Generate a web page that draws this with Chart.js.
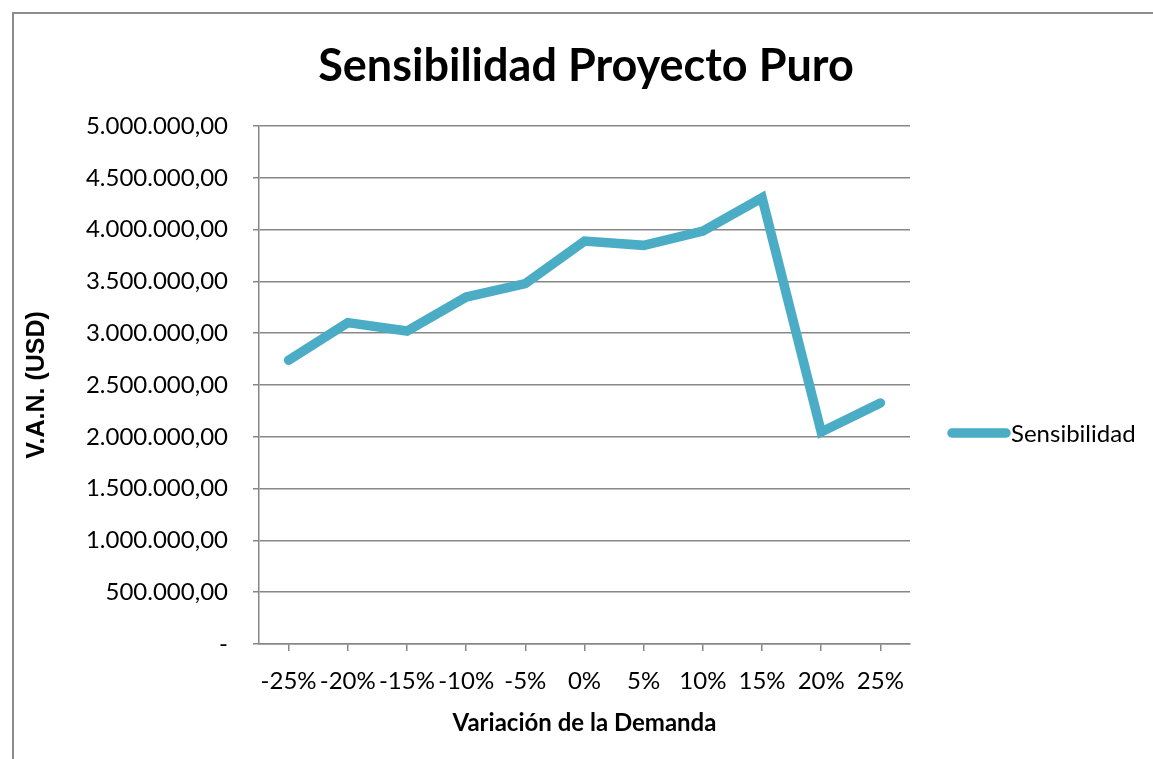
<!DOCTYPE html>
<html>
<head>
<meta charset="utf-8">
<script src="https://cdn.jsdelivr.net/npm/chart.js@4/dist/chart.umd.min.js"></script>
<style>
  html, body { margin: 0; padding: 0; background: #fff; }
  #wrap { width: 1153px; height: 759px; }
</style>
</head>
<body>
<div id="wrap"><canvas id="c" width="1153" height="759"></canvas></div>
<script>
const categories = ['-25%', '-20%', '-15%', '-10%', '-5%', '0%', '5%', '10%', '15%', '20%', '25%'];
const sensibilidad = [2739000, 3102000, 3021000, 3349000, 3478000, 3889000, 3848000, 3986000, 4307000, 2047000, 2327000];
const seriesName = 'Sensibilidad';
const chartTitle = 'Sensibilidad Proyecto Puro';
const xTitle = 'Variación de la Demanda';
const yTitle = 'V.A.N. (USD)';

const lineColor = '#4BACC6';
const gridColor = '#878787';
const bodyFont = 'Lato, "Open Sans", sans-serif';

function fmt(v) {
  if (v === 0) return '-';
  const s = Math.round(v).toString().replace(/\B(?=(\d{3})+(?!\d))/g, '.');
  return s + ',00';
}

const framePlugin = {
  id: 'frame',
  beforeDraw(chart) {
    const ctx = chart.ctx;
    ctx.save();
    ctx.fillStyle = '#fff';
    ctx.fillRect(0, 0, chart.width, chart.height);
    ctx.strokeStyle = '#8c8c8c';
    ctx.lineWidth = 2;
    ctx.beginPath();
    ctx.moveTo(13, chart.height + 5);
    ctx.lineTo(13, 13);
    ctx.lineTo(chart.width + 5, 13);
    ctx.stroke();
    ctx.restore();
  }
};

const titlePlugin = {
  id: 'customTitle',
  afterDraw(chart) {
    const ctx = chart.ctx;
    ctx.save();
    ctx.fillStyle = '#000';
    ctx.font = 'bold 45px ' + bodyFont;
    ctx.textAlign = 'center';
    ctx.textBaseline = 'middle';
    ctx.fillText(chartTitle, 586, 66);
    ctx.restore();
  }
};

const legendPlugin = {
  id: 'customLegend',
  afterDraw(chart) {
    const ctx = chart.ctx;
    const ds = chart.data.datasets[0];
    const y = 433;
    ctx.save();
    ctx.strokeStyle = ds.borderColor;
    ctx.lineWidth = ds.borderWidth;
    ctx.lineCap = 'round';
    ctx.beginPath();
    ctx.moveTo(952, y);
    ctx.lineTo(1006, y);
    ctx.stroke();
    ctx.fillStyle = '#000';
    ctx.font = '24px ' + bodyFont;
    ctx.textBaseline = 'middle';
    ctx.textAlign = 'left';
    ctx.fillText(ds.label, 1011, y + 1);
    ctx.restore();
  }
};

new Chart(document.getElementById('c'), {
  type: 'line',
  data: {
    labels: categories,
    datasets: [{
      label: seriesName,
      data: sensibilidad,
      borderColor: lineColor,
      backgroundColor: lineColor,
      borderWidth: 9.5,
      pointRadius: 0,
      pointHoverRadius: 0,
      tension: 0,
      borderCapStyle: 'round',
      borderJoinStyle: 'miter',
      fill: false
    }]
  },
  options: {
    responsive: false,
    animation: false,
    events: [],
    layout: { padding: { left: 0, right: 243, top: 126, bottom: 0 } },
    plugins: {
      legend: { display: false },
      tooltip: { enabled: false },
      title: { display: false }
    },
    scales: {
      x: {
        type: 'category',
        offset: true,
        grid: {
          display: true,
          drawOnChartArea: false,
          drawTicks: true,
          tickLength: 7,
          color: gridColor,
          lineWidth: 1.5,
          offset: false
        },
        border: { display: true, color: gridColor, width: 1.5 },
        ticks: {
          color: '#000',
          font: { family: bodyFont, size: 24 },
          padding: 16,
          maxRotation: 0,
          autoSkip: false
        },
        title: {
          display: true,
          text: xTitle,
          color: '#000',
          font: { family: bodyFont, size: 24, weight: 'bold', lineHeight: 1.2 },
          padding: { top: 0, bottom: 21 }
        },
        afterFit(s) { s.height = 115; }
      },
      y: {
        min: 0,
        max: 5000000,
        grid: {
          color: gridColor,
          lineWidth: 1.5,
          drawTicks: true,
          tickLength: 6
        },
        border: { display: true, color: gridColor, width: 1.5 },
        ticks: {
          stepSize: 500000,
          color: '#000',
          font: { family: bodyFont, size: 24 },
          padding: 25,
          callback: (v) => fmt(v)
        },
        title: {
          display: true,
          text: yTitle,
          color: '#000',
          font: { family: '"Liberation Sans", Arial, sans-serif', size: 25, weight: 'bold', lineHeight: 1.2 },
          padding: { top: 22, bottom: 0 }
        },
        afterFit(s) { s.width = 259; }
      }
    }
  },
  plugins: [framePlugin, titlePlugin, legendPlugin]
});
</script>
</body>
</html>
